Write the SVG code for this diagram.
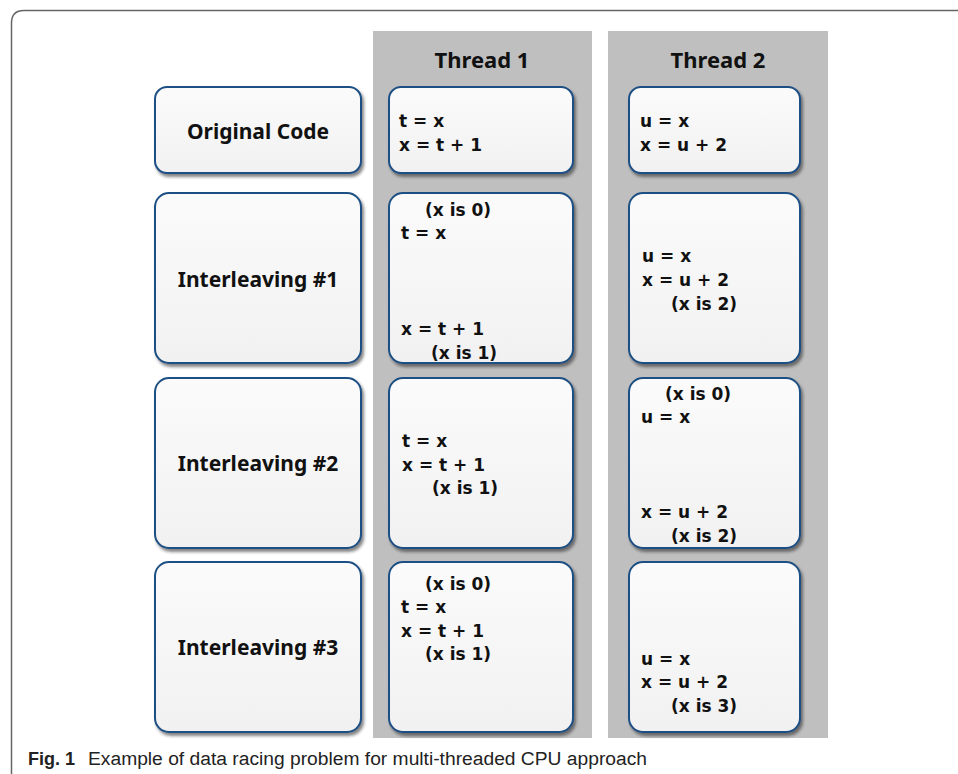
<svg xmlns="http://www.w3.org/2000/svg" width="958" height="774" viewBox="0 0 958 774">
<defs>
<linearGradient id="bg" x1="0" y1="0" x2="0" y2="1">
<stop offset="0" stop-color="#fbfbfb"/>
<stop offset="1" stop-color="#f1f1f1"/>
</linearGradient>
<filter id="sh" x="-10%" y="-10%" width="125%" height="125%">
<feDropShadow dx="2" dy="3" stdDeviation="1.5" flood-color="#222" flood-opacity="0.55"/>
</filter>
</defs>
<style>
.box{fill:url(#bg);stroke:#1f4f84;stroke-width:2;filter:url(#sh)}
.col{fill:#bfbfbf}
text{font-family:"Noto Sans","Open Sans","DejaVu Sans",sans-serif;font-weight:bold;fill:#111}
.lbl{font-size:21px;text-anchor:middle}
.hd{font-size:22px;text-anchor:middle}
.code{font-family:"DejaVu Sans","Noto Sans",sans-serif;font-size:17px}
.cap{font-family:"Liberation Sans",Arial,sans-serif;font-size:18px;font-weight:normal;fill:#222}
</style>
<rect width="958" height="774" fill="#fff"/>
<path d="M958,10.5 H24 Q11.5,10.5 11.5,23 V774" fill="none" stroke="#666" stroke-width="1.5"/>
<rect class="col" x="373" y="31" width="219" height="707"/>
<rect class="col" x="608" y="31" width="220" height="707"/>
<text class="hd" x="482" y="68">Thread 1</text>
<text class="hd" x="718" y="68">Thread 2</text>
<g id="original-code">
<rect class="box" x="155" y="87" width="206" height="86" rx="12"/>
<text class="lbl" x="258" y="139">Original Code</text>
</g>
<g id="t1-original">
<rect class="box" x="389" y="87" width="184" height="86" rx="12"/>
<text class="code" x="399" y="127">t = x</text>
<text class="code" x="399" y="151">x = t + 1</text>
</g>
<g id="t2-original">
<rect class="box" x="629" y="87" width="171" height="86" rx="12"/>
<text class="code" x="640" y="127">u = x</text>
<text class="code" x="640" y="151">x = u + 2</text>
</g>
<g id="interleaving-1">
<rect class="box" x="155" y="193" width="206" height="170" rx="14"/>
<text class="lbl" x="258" y="287">Interleaving #1</text>
</g>
<g id="t1-i1">
<rect class="box" x="389" y="193" width="184" height="170" rx="14"/>
<text class="code" x="425" y="216">(x is 0)</text>
<text class="code" x="401" y="239">t = x</text>
<text class="code" x="401" y="335">x = t + 1</text>
<text class="code" x="431" y="359">(x is 1)</text>
</g>
<g id="t2-i1">
<rect class="box" x="629" y="193" width="171" height="170" rx="14"/>
<text class="code" x="642" y="262">u = x</text>
<text class="code" x="642" y="286">x = u + 2</text>
<text class="code" x="671" y="310">(x is 2)</text>
</g>
<g id="interleaving-2">
<rect class="box" x="155" y="378" width="206" height="170" rx="14"/>
<text class="lbl" x="258" y="471">Interleaving #2</text>
</g>
<g id="t1-i2">
<rect class="box" x="389" y="378" width="184" height="170" rx="14"/>
<text class="code" x="402" y="447">t = x</text>
<text class="code" x="402" y="471">x = t + 1</text>
<text class="code" x="432" y="494">(x is 1)</text>
</g>
<g id="t2-i2">
<rect class="box" x="629" y="378" width="171" height="170" rx="14"/>
<text class="code" x="665" y="400">(x is 0)</text>
<text class="code" x="641" y="423">u = x</text>
<text class="code" x="641" y="518">x = u + 2</text>
<text class="code" x="671" y="542">(x is 2)</text>
</g>
<g id="interleaving-3">
<rect class="box" x="155" y="562" width="206" height="170" rx="14"/>
<text class="lbl" x="258" y="655">Interleaving #3</text>
</g>
<g id="t1-i3">
<rect class="box" x="389" y="562" width="184" height="170" rx="14"/>
<text class="code" x="425" y="590">(x is 0)</text>
<text class="code" x="401" y="613">t = x</text>
<text class="code" x="401" y="637">x = t + 1</text>
<text class="code" x="425" y="660">(x is 1)</text>
</g>
<g id="t2-i3">
<rect class="box" x="629" y="562" width="171" height="170" rx="14"/>
<text class="code" x="641" y="665">u = x</text>
<text class="code" x="641" y="688">x = u + 2</text>
<text class="code" x="671" y="712">(x is 3)</text>
</g>
<g id="connectors"></g>
<text class="cap" x="28" y="765" fill="#111" style="font-weight:bold">Fig. 1</text>
<text class="cap" x="88" y="765" textLength="559" lengthAdjust="spacingAndGlyphs">Example of data racing problem for multi-threaded CPU approach</text>
</svg>
